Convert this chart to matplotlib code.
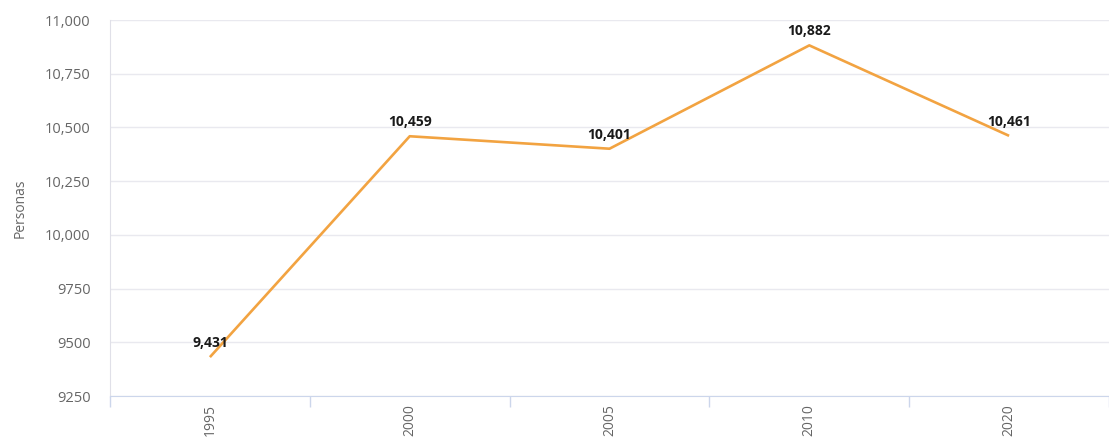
import matplotlib.pyplot as plt
import numpy as np

years = ['1995', '2000', '2005', '2010', '2020']
personas = [9431, 10459, 10401, 10882, 10461]
ytick_vals = [9250, 9500, 9750, 10000, 10250, 10500, 10750, 11000]
ytick_labels = ['9250', '9500', '9750', '10,000', '10,250', '10,500', '10,750', '11,000']

plt.rcParams['font.family'] = ['Open Sans', 'DejaVu Sans']

fig = plt.figure(figsize=(11.09, 4.4), dpi=100)
ax = fig.add_axes([0.0992, 0.1, 0.9008, 0.8545])

x = np.arange(len(years))
ax.plot(x, personas, color='#f2a341', linewidth=1.9, solid_capstyle='butt')

# value labels over each point
for xi, v in zip(x, personas):
    ax.annotate(f'{v:,}', (xi, v), xytext=(0, 5), textcoords='offset points',
                ha='center', va='bottom', fontsize=10, fontweight='bold', color='#1a1a1a')

ax.set_xlim(-0.5, 4.458)
ax.set_ylim(9250, 11000)
ax.set_yticks(ytick_vals)
ax.set_yticklabels(ytick_labels)
ax.set_xticks(x)
ax.set_xticklabels(years, rotation=90)
ax.set_xticks(np.arange(-0.5, 4.6, 1), minor=True)

ax.grid(axis='y', color='#e9e9ef', linewidth=1)
ax.set_axisbelow(True)
ax.tick_params(axis='y', length=0, pad=14, labelsize=10.5, labelcolor='#666666')
ax.tick_params(axis='x', which='major', length=0, pad=6, labelsize=10, labelcolor='#666666')
ax.tick_params(axis='x', which='minor', length=8, color='#ccd6eb', width=1)

for s in ['top', 'right']:
    ax.spines[s].set_visible(False)
ax.spines['bottom'].set_color('#ccd6eb')
ax.spines['left'].set_color('#e0e0e8')

ax.set_ylabel('Personas', fontsize=10, color='#666666')
ax.yaxis.set_label_coords(-0.082, 0.5)

fig.savefig('out.png', dpi=100)
